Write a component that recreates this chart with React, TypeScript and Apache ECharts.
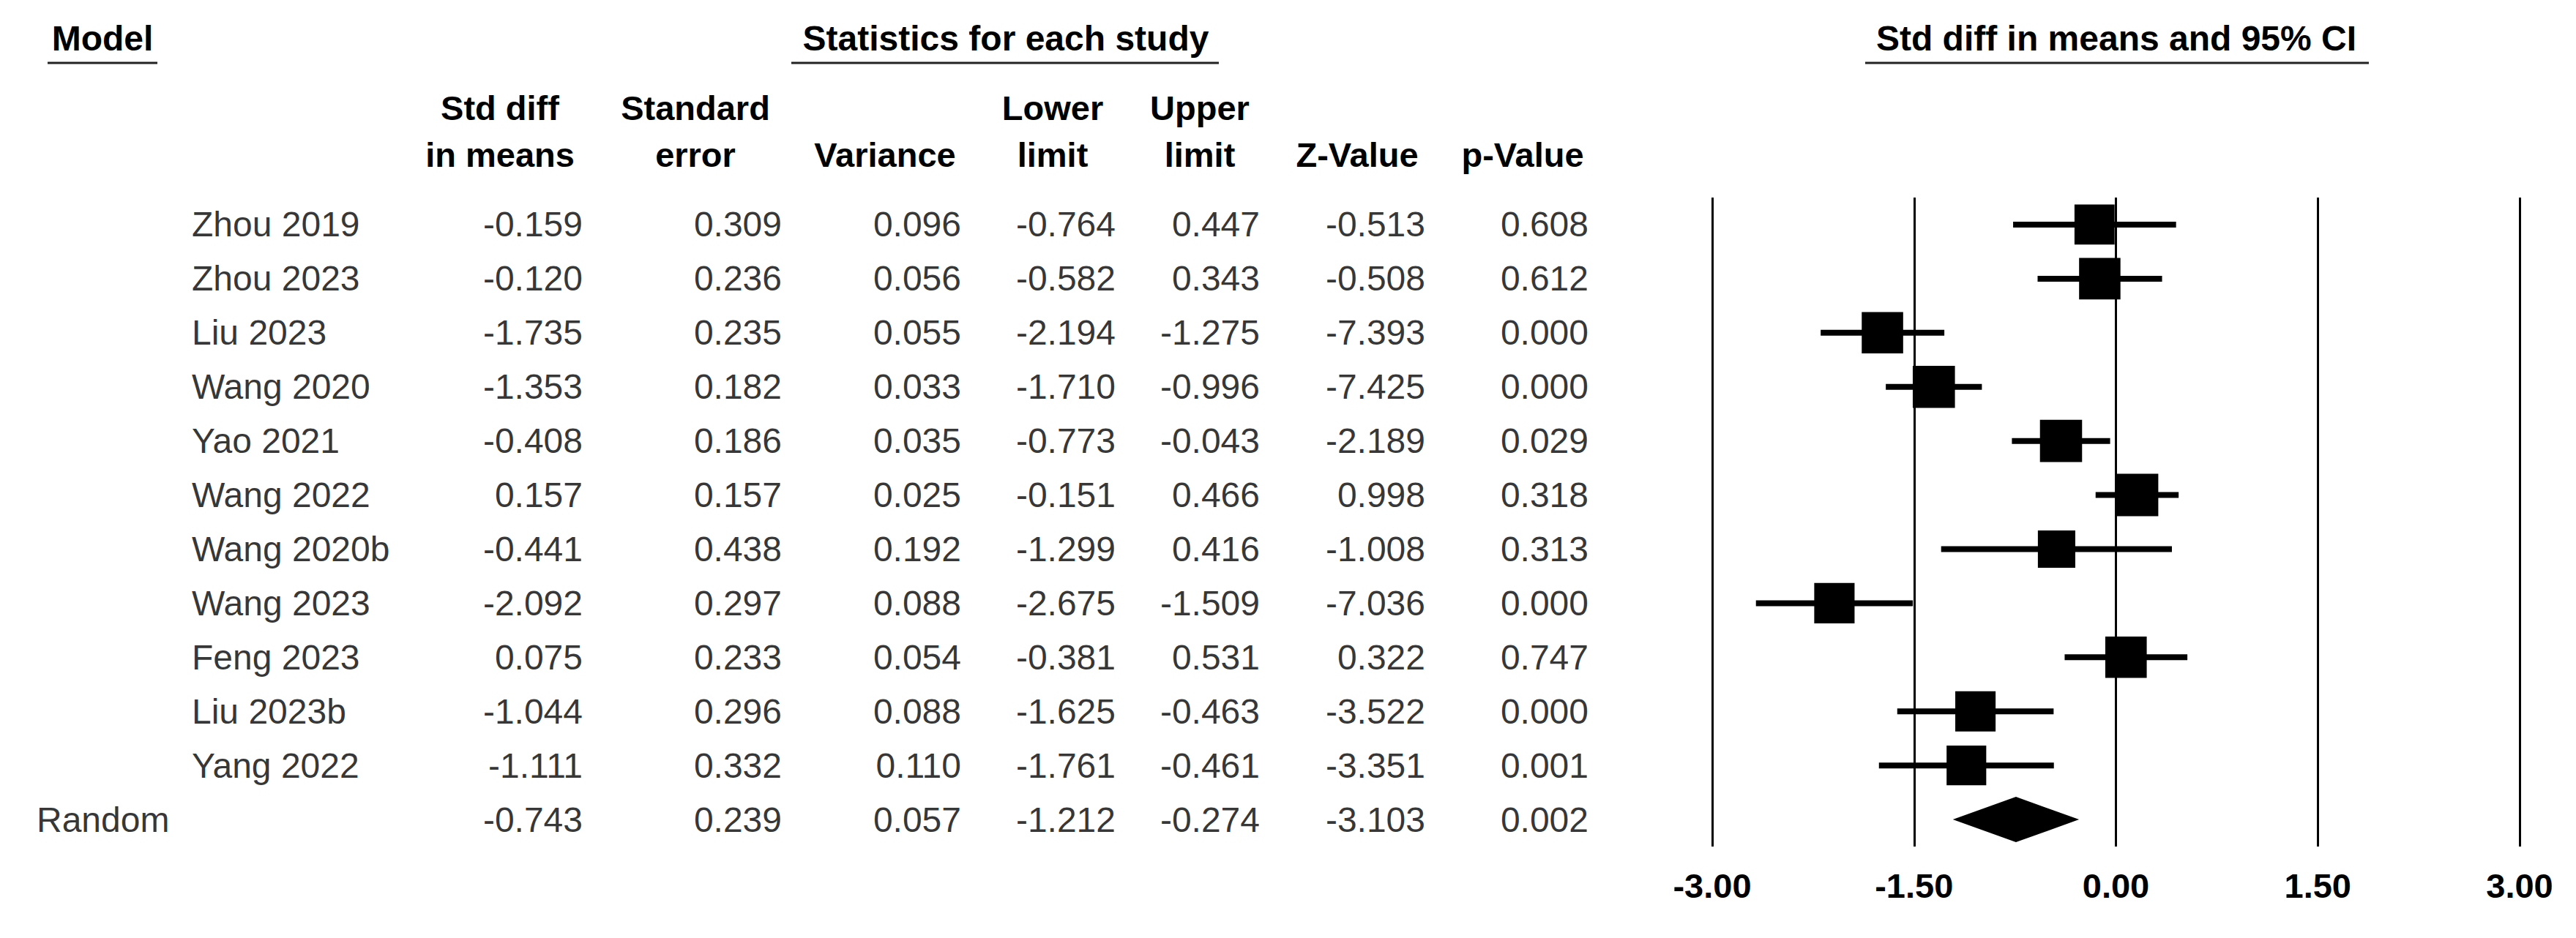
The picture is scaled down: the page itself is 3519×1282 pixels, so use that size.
import React, { useEffect, useRef } from "react";
import * as echarts from "echarts";

// ---------- data ----------
const studies = ["Zhou 2019", "Zhou 2023", "Liu 2023", "Wang 2020", "Yao 2021", "Wang 2022", "Wang 2020b", "Wang 2023", "Feng 2023", "Liu 2023b", "Yang 2022"];
const summaryLabel = "Random";
const stdDiff = [-0.159, -0.12, -1.735, -1.353, -0.408, 0.157, -0.441, -2.092, 0.075, -1.044, -1.111];
const stdErr = [0.309, 0.236, 0.235, 0.182, 0.186, 0.157, 0.438, 0.297, 0.233, 0.296, 0.332];
const variance = [0.096, 0.056, 0.055, 0.033, 0.035, 0.025, 0.192, 0.088, 0.054, 0.088, 0.11];
const lowerLimit = [-0.764, -0.582, -2.194, -1.71, -0.773, -0.151, -1.299, -2.675, -0.381, -1.625, -1.761];
const upperLimit = [0.447, 0.343, -1.275, -0.996, -0.043, 0.466, 0.416, -1.509, 0.531, -0.463, -0.461];
const zValue = [-0.513, -0.508, -7.393, -7.425, -2.189, 0.998, -1.008, -7.036, 0.322, -3.522, -3.351];
const pValue = [0.608, 0.612, 0.0, 0.0, 0.029, 0.318, 0.313, 0.0, 0.747, 0.0, 0.001];
// Random-effects summary: std diff, SE, variance, lower, upper, Z, p
const summaryStats = [-0.743, 0.239, 0.057, -1.212, -0.274, -3.103, 0.002];

const headerLine1 = ["Std diff", "Standard", "", "Lower", "Upper", "", ""];
const headerLine2 = ["in means", "error", "Variance", "limit", "limit", "Z-Value", "p-Value"];
const xTicks = [-3, -1.5, 0, 1.5, 3];

// ---------- layout (pixels) ----------
const W = 3519;
const H = 1282;
const GRID_TOP = 270;
const GRID_H = 887;
const PLOT_LEFT = 2339;
const PLOT_W = 1103;
const NAME_X = 262;
const SUMMARY_NAME_X = 50;
const COL_RIGHT = [796, 1068, 1313, 1524, 1721, 1947, 2170];
const COL_HEAD_CENTER = [683, 950, 1209, 1438, 1639, 1854, 2080];
const TAU2 = 0.55; // between-study variance used for box weights
const BOX_K = 44;
const FONT = '"Liberation Sans", Arial, Helvetica, sans-serif';

export default function App() {
  const ref = useRef<HTMLDivElement>(null);

  useEffect(() => {
    if (!ref.current) return;
    const chart = echarts.init(ref.current, undefined, { renderer: "svg" });
    const nRows = studies.length + 1;

    const columns: number[][] = [
      stdDiff.concat([summaryStats[0]]),
      stdErr.concat([summaryStats[1]]),
      variance.concat([summaryStats[2]]),
      lowerLimit.concat([summaryStats[3]]),
      upperLimit.concat([summaryStats[4]]),
      zValue.concat([summaryStats[5]]),
      pValue.concat([summaryStats[6]]),
    ];

    const textStyle = { fontFamily: FONT, fontSize: 48, color: "#000" };

    const tableSeries: any[] = columns.map((col, c) => ({
      type: "scatter",
      xAxisIndex: 1,
      yAxisIndex: 1,
      symbolSize: 0,
      silent: true,
      data: col.map((v, i) => ({ value: [COL_RIGHT[c], i], name: v.toFixed(3) })),
      label: {
        show: true,
        position: "left",
        distance: 0,
        formatter: "{b}",
        ...textStyle,
        verticalAlign: "middle",
      },
    }));

    tableSeries.push({
      type: "scatter",
      xAxisIndex: 1,
      yAxisIndex: 1,
      symbolSize: 0,
      silent: true,
      data: studies
        .map((s, i) => ({ value: [NAME_X, i], name: s }))
        .concat([{ value: [SUMMARY_NAME_X, studies.length], name: summaryLabel }]),
      label: {
        show: true,
        position: "right",
        distance: 0,
        formatter: "{b}",
        ...textStyle,
        verticalAlign: "middle",
      },
    });

    const forestData = stdDiff
      .map((e, i) => [e, i, lowerLimit[i], upperLimit[i], variance[i], 0])
      .concat([[summaryStats[0], studies.length, summaryStats[3], summaryStats[4], summaryStats[2], 1]]);

    const forestSeries = {
      type: "custom",
      xAxisIndex: 0,
      yAxisIndex: 0,
      silent: true,
      encode: { x: 0, y: 1 },
      data: forestData,
      renderItem: (params: any, api: any) => {
        const est = api.value(0);
        const row = api.value(1);
        const lo = api.value(2);
        const hi = api.value(3);
        const v = api.value(4);
        const isSummary = api.value(5) === 1;
        const pE = api.coord([est, row]);
        const pL = api.coord([lo, row]);
        const pH = api.coord([hi, row]);
        if (isSummary) {
          const hh = 31;
          return {
            type: "polygon",
            shape: {
              points: [
                [pL[0], pE[1]],
                [pE[0], pE[1] - hh],
                [pH[0], pE[1]],
                [pE[0], pE[1] + hh],
              ],
            },
            style: { fill: "#000" },
          };
        }
        const size = BOX_K * Math.sqrt(1 / (v + TAU2));
        return {
          type: "group",
          children: [
            {
              type: "line",
              shape: { x1: pL[0], y1: pE[1], x2: pH[0], y2: pE[1] },
              style: { stroke: "#000", lineWidth: 8 },
            },
            {
              type: "rect",
              shape: { x: pE[0] - size / 2, y: pE[1] - size / 2, width: size, height: size },
              style: { fill: "#000" },
            },
          ],
        };
      },
    };

    const graphics: any[] = [];
    const headText = (text: string, x: number, y: number, size: number) => ({
      type: "text",
      x,
      y,
      silent: true,
      style: {
        text,
        fill: "#000",
        fontFamily: FONT,
        fontSize: size,
        fontWeight: "bold",
        align: "center",
        verticalAlign: "middle",
      },
    });
    const underline = (x1: number, x2: number) => ({
      type: "line",
      silent: true,
      shape: { x1, y1: 86, x2, y2: 86 },
      style: { stroke: "#222", lineWidth: 3 },
    });
    graphics.push(headText("Model", 140, 52, 48));
    graphics.push(underline(65, 215));
    graphics.push(headText("Statistics for each study", 1374, 52, 48));
    graphics.push(underline(1081, 1665));
    graphics.push(headText("Std diff in means and 95% CI", 2891, 52, 48));
    graphics.push(underline(2548, 3236));
    headerLine1.forEach((t, c) => {
      if (t) graphics.push(headText(t, COL_HEAD_CENTER[c], 147, 47));
    });
    headerLine2.forEach((t, c) => {
      if (t) graphics.push(headText(t, COL_HEAD_CENTER[c], 211, 47));
    });

    chart.setOption({
      animation: false,
      backgroundColor: "#fff",
      grid: [
        { left: PLOT_LEFT, top: GRID_TOP, width: PLOT_W, height: GRID_H },
        { left: 0, top: GRID_TOP, width: W, height: GRID_H },
      ],
      xAxis: [
        {
          type: "value",
          gridIndex: 0,
          min: xTicks[0],
          max: xTicks[xTicks.length - 1],
          interval: xTicks[1] - xTicks[0],
          axisLine: { show: false },
          axisTick: { show: false },
          splitLine: { show: true, lineStyle: { color: "#000", width: 3 } },
          axisLabel: {
            show: true,
            margin: 30,
            formatter: (v: number) => v.toFixed(2),
            fontFamily: FONT,
            fontSize: 47,
            fontWeight: "bold",
            color: "#000",
          },
        },
        {
          type: "value",
          gridIndex: 1,
          min: 0,
          max: W,
          show: false,
        },
      ],
      yAxis: [
        {
          type: "value",
          gridIndex: 0,
          inverse: true,
          min: -0.5,
          max: nRows - 0.5,
          show: false,
        },
        {
          type: "value",
          gridIndex: 1,
          inverse: true,
          min: -0.5,
          max: nRows - 0.5,
          show: false,
        },
      ],
      graphic: graphics,
      series: [forestSeries, ...tableSeries],
    });

    return () => chart.dispose();
  }, []);

  return (
    <div
      ref={ref}
      style={{ position: "fixed", left: 0, top: 0, width: W, height: H, background: "#fff" }}
    />
  );
}
